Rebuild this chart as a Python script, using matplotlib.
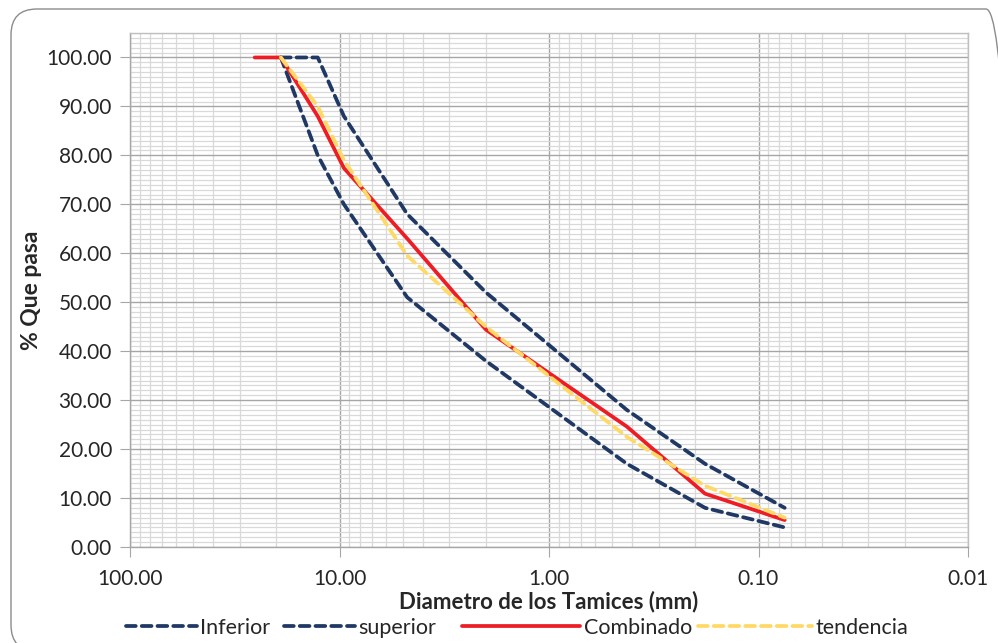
import matplotlib
matplotlib.use("Agg")
import matplotlib.pyplot as plt
from matplotlib.patches import FancyBboxPatch
from matplotlib.ticker import FixedLocator, MultipleLocator, LogLocator, NullFormatter, FuncFormatter

plt.rcParams['font.family'] = ['Lato', 'DejaVu Sans']

# Sieve openings (mm): 1", 3/4", 1/2", 3/8", No.4, No.10, No.40, No.80, No.200
tamiz_mm = [25.4, 19.05, 12.7, 9.525, 4.75, 2.0, 0.425, 0.18, 0.075]
spec_mm = tamiz_mm[1:]

inferior = [100, 80, 70, 51, 38, 17, 8, 4]
superior = [100, 100, 88, 68, 52, 28, 17, 8]
combinado = [100, 100, 88.0, 77.4, 63.0, 44.4, 24.6, 10.9, 5.5]
tendencia = [100, 90, 79, 59.5, 45, 22.5, 12.5, 6]

x_ticks = [100, 10, 1, 0.1, 0.01]
x_tick_labels = ["100.00", "10.00", "1.00", "0.10", "0.01"]

W, H = 998, 643
fig = plt.figure(figsize=(W / 100, H / 100), dpi=100)

# Rounded chart-area frame (pixel coordinates)
frame = FancyBboxPatch((11, -8), 1012 - 11, (H - 9) + 8,
                       boxstyle="round,pad=0,rounding_size=26",
                       transform=None, fill=False,
                       edgecolor="#8c8c8c", linewidth=1.0, zorder=0)
fig.patches.append(frame)

ax = fig.add_axes([130 / W, 1 - 547 / H, (968 - 130) / W, (547 - 33) / H])

navy = "#1f3864"
red = "#ee1c25"
gold = "#ffd966"
dash = (2.6, 1.6)
lw = 2.7

ax.plot(spec_mm, inferior, color=navy, lw=lw, ls=(0, dash),
        dash_capstyle="round", label="Inferior", zorder=3)
ax.plot(spec_mm, superior, color=navy, lw=lw, ls=(0, dash),
        dash_capstyle="round", label="superior", zorder=3)
ax.plot(tamiz_mm, combinado, color=red, lw=lw, solid_capstyle="round",
        solid_joinstyle="round", label="Combinado", zorder=4)
ax.plot(spec_mm, tendencia, color=gold, lw=lw, ls=(0, dash),
        dash_capstyle="round", label="tendencia", zorder=5)

ax.set_xscale("log")
ax.set_xlim(100, 0.01)
ax.set_ylim(0, 105)

ax.xaxis.set_major_locator(FixedLocator(x_ticks))
ax.xaxis.set_major_formatter(FuncFormatter(
    lambda v, p: x_tick_labels[x_ticks.index(min(x_ticks, key=lambda t: abs(t - v)))]))
ax.xaxis.set_minor_locator(LogLocator(base=10, subs=range(2, 10), numticks=20))
ax.xaxis.set_minor_formatter(NullFormatter())

ax.yaxis.set_major_locator(FixedLocator(range(0, 101, 10)))
ax.yaxis.set_major_formatter(FuncFormatter(lambda v, p: f"{v:.2f}"))
ax.yaxis.set_minor_locator(MultipleLocator(1))

ax.grid(which="major", color="#a6a6a6", lw=1.0, zorder=1)
ax.grid(which="minor", color="#d9d9d9", lw=0.9, zorder=0)
ax.set_axisbelow(True)

for s in ax.spines.values():
    s.set_color("#bfbfbf")
    s.set_linewidth(1.0)
ax.spines["left"].set_color("#a6a6a6")
ax.spines["bottom"].set_color("#a6a6a6")

ax.tick_params(axis="both", which="major", direction="out", length=7,
               color="#a6a6a6", labelsize=15, labelcolor="#262626")
ax.tick_params(axis="x", which="major", pad=9)
ax.tick_params(axis="y", which="major", pad=6)
ax.tick_params(axis="both", which="minor", length=0)

ax.set_xlabel("Diametro de los Tamices (mm)", fontsize=16, fontweight="bold",
              color="#262626", labelpad=1)
ax.set_ylabel("% Que pasa", fontsize=16.5, fontweight="bold",
              color="#262626")
ax.yaxis.set_label_coords(-0.105, 0.5)

# Legend row: one entry per block, positioned along the bottom
lines = ax.get_lines()
entries = [(lines[0], "Inferior", 126, 3.3),
           (lines[1], "superior", 284, 3.3),
           (lines[2], "Combinado", 462, 5.5),
           (lines[3], "tendencia", 698, 5.3)]
for h, lab, x0, hl in entries:
    fig.legend(handles=[h], labels=[lab], loc="center left",
               bbox_to_anchor=(x0 / W, 1 - 628 / H), frameon=False,
               fontsize=15.5, handlelength=hl, handletextpad=0.15,
               borderpad=0, borderaxespad=0, labelcolor="#262626")

fig.savefig("out.png", dpi=100)
